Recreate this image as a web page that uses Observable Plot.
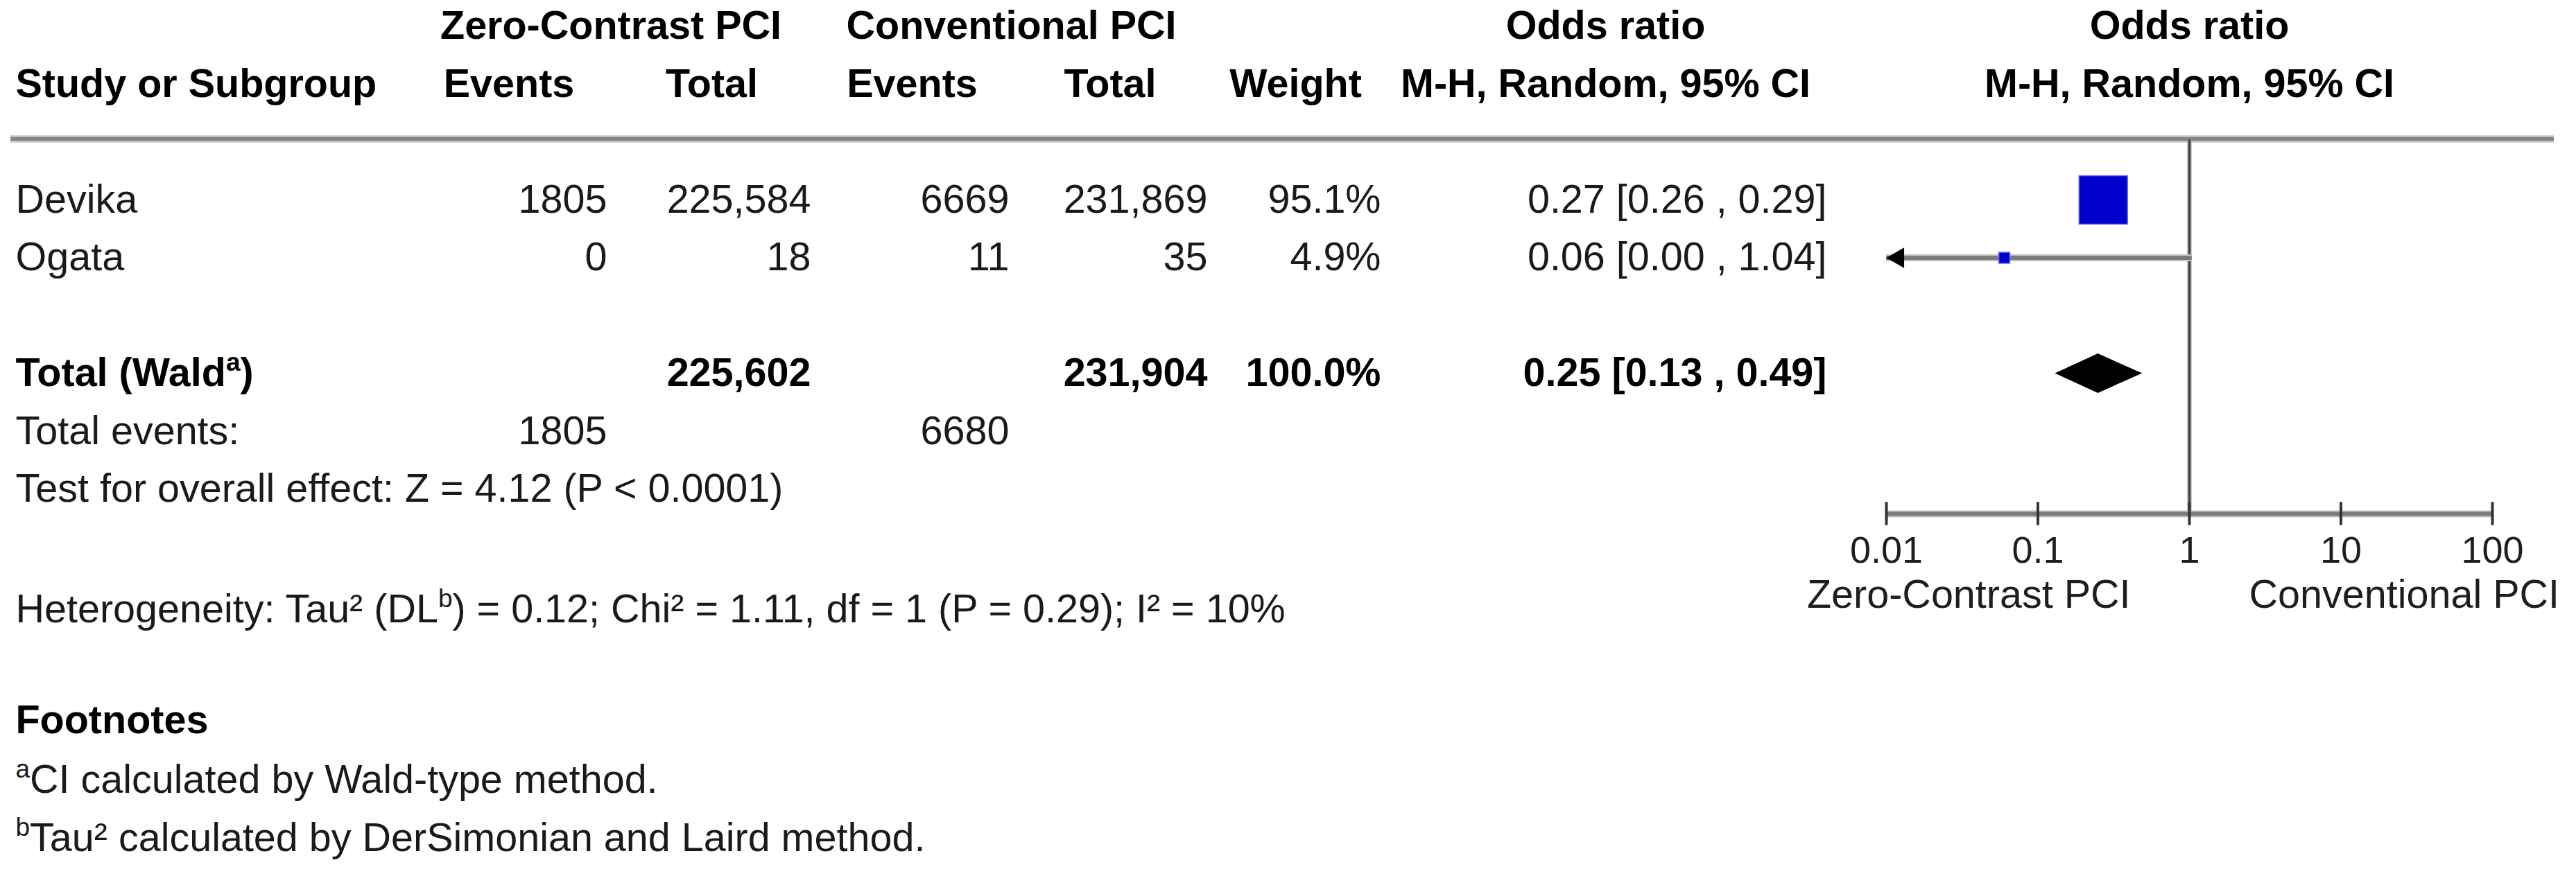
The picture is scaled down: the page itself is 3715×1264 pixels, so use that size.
<!DOCTYPE html>
<html>
<head>
<meta charset="utf-8">
<script src="https://cdn.jsdelivr.net/npm/d3@7"></script>
<script src="https://cdn.jsdelivr.net/npm/@observablehq/plot@0.6"></script>
<style>
  html, body { margin: 0; padding: 0; background: #ffffff; }
  #chart { position: relative; width: 3715px; height: 1264px; overflow: hidden; background: #ffffff; }
  #chart svg { position: absolute; left: 0; top: 0; max-width: none; }
</style>
</head>
<body>
<div id="chart"></div>
<script>
// ---------------- DATA ----------------
const studies      = ["Devika", "Ogata"];
const zcEvents     = [1805, 0];
const zcTotals     = [225584, 18];
const cvEvents     = [6669, 11];
const cvTotals     = [231869, 35];
const weights      = [95.1, 4.9];
const oddsRatios   = [0.27, 0.06];
const ciLower      = [0.26, 0.00];
const ciUpper      = [0.29, 1.04];

const pooledEstimate = 0.25;
const pooledLower    = 0.13;
const pooledUpper    = 0.49;
const groupTotals      = [225602, 231904];
const groupEventTotals = [1805, 6680];
const totalWeight      = 100.0;

const overallZ = 4.12;
const overallP = "< 0.0001";
const hetTau2 = 0.12, hetChi2 = 1.11, hetDf = 1, hetP = 0.29, hetI2 = 10;

const groupLabels   = ["Zero-Contrast PCI", "Conventional PCI"];
const columnHeaders = ["Events", "Total", "Events", "Total", "Weight", "M-H, Random, 95% CI"];
const effectHeader  = ["Odds ratio", "M-H, Random, 95% CI"];
const tickValues    = [0.01, 0.1, 1, 10, 100];
const tickLabels    = ["0.01", "0.1", "1", "10", "100"];
const footnotes     = ["^aCI calculated by Wald-type method.", "^bTau² calculated by DerSimonian and Laird method."];

// ---------------- LAYOUT ----------------
const W = 3715, H = 1264;
const FONT = "'Liberation Sans', Arial, Helvetica, sans-serif";
const FS = 57.5;
const ROW = {header1: 0, header2: 1, firstStudy: 3, total: 6, totalEvents: 7, test: 8, het: 10.08, fnTitle: 12, firstFn: 13.03};
const LINE_ROW = 1.946, AXIS_ROW = 8.425, TICK_ROW = 9.06, AXIS_TITLE_ROW = 9.83;
const DIAMOND_HALF = 0.34, TICK_HALF = 0.2;
const yScale = {type: "linear", domain: [0, 14], range: [37.5, 1206.5], axis: null};
const TEXT_LEFT = 22;
const cols = {zcEvents: [592, 875], zcTotal: [883, 1169], cvEvents: [1175, 1455], cvTotal: [1460, 1741], weight: [1745, 1991], or: [1996, 2634]};
const colKeys = ["zcEvents", "zcTotal", "cvEvents", "cvTotal", "weight", "or"];
const mid = (a, b) => (cols[a][0] + cols[b][1]) / 2;
const right = k => cols[k][1];

// ---------------- FORMATTERS ----------------
const fmtTotal = d3.format(",");
const f2 = v => v.toFixed(2);
const orText = (e, l, u) => `${f2(e)} [${f2(l)} , ${f2(u)}]`;

// ---------------- TABLE CELLS ----------------
const midBold = [
  {x: mid("zcEvents", "zcTotal"), row: ROW.header1, text: groupLabels[0]},
  {x: mid("cvEvents", "cvTotal"), row: ROW.header1, text: groupLabels[1]},
  {x: mid("or", "or"), row: ROW.header1, text: effectHeader[0]},
  ...colKeys.map((k, i) => ({x: mid(k, k), row: ROW.header2, text: columnHeaders[i]}))
];
const startBold = [
  {x: TEXT_LEFT, row: ROW.header2, text: "Study or Subgroup"},
  {x: TEXT_LEFT, row: ROW.total, text: "Total (Wald^a)"},
  {x: TEXT_LEFT, row: ROW.fnTitle, text: "Footnotes"}
];
const startNormal = [
  ...studies.map((s, i) => ({x: TEXT_LEFT, row: ROW.firstStudy + i, text: s})),
  {x: TEXT_LEFT, row: ROW.totalEvents, text: "Total events:"},
  {x: TEXT_LEFT, row: ROW.test, text: `Test for overall effect: Z = ${f2(overallZ)} (P ${overallP})`},
  {x: TEXT_LEFT, row: ROW.het, text: `Heterogeneity: Tau² (DL^b) = ${f2(hetTau2)}; Chi² = ${f2(hetChi2)}, df = ${hetDf} (P = ${f2(hetP)}); I² = ${hetI2}%`},
  ...footnotes.map((t, i) => ({x: TEXT_LEFT, row: ROW.firstFn + i, text: t}))
];
const endNormal = [];
studies.forEach((s, i) => {
  const r = ROW.firstStudy + i;
  endNormal.push({x: right("zcEvents"), row: r, text: String(zcEvents[i])});
  endNormal.push({x: right("zcTotal"), row: r, text: fmtTotal(zcTotals[i])});
  endNormal.push({x: right("cvEvents"), row: r, text: String(cvEvents[i])});
  endNormal.push({x: right("cvTotal"), row: r, text: fmtTotal(cvTotals[i])});
  endNormal.push({x: right("weight"), row: r, text: weights[i].toFixed(1) + "%"});
  endNormal.push({x: right("or"), row: r, text: orText(oddsRatios[i], ciLower[i], ciUpper[i])});
});
endNormal.push({x: right("zcEvents"), row: ROW.totalEvents, text: String(groupEventTotals[0])});
endNormal.push({x: right("cvEvents"), row: ROW.totalEvents, text: String(groupEventTotals[1])});
const endBold = [
  {x: right("zcTotal"), row: ROW.total, text: fmtTotal(groupTotals[0])},
  {x: right("cvTotal"), row: ROW.total, text: fmtTotal(groupTotals[1])},
  {x: right("weight"), row: ROW.total, text: totalWeight.toFixed(1) + "%"},
  {x: right("or"), row: ROW.total, text: orText(pooledEstimate, pooledLower, pooledUpper)}
];

const textOpts = (anchor, bold) => ({x: "x", y: "row", text: "text", textAnchor: anchor,
  fontSize: FS, fontWeight: bold ? "bold" : "normal", fill: bold ? "#000" : "#1a1a1a"});

const table = Plot.plot({
  width: W, height: H, margin: 0,
  x: {type: "linear", domain: [0, W], range: [0, W], axis: null},
  y: yScale,
  style: {background: "transparent", fontFamily: FONT, overflow: "visible"},
  marks: [
    Plot.ruleY([LINE_ROW], {x1: 15, x2: 3683, stroke: "#d4d4d4", strokeWidth: 11}),
    Plot.ruleY([LINE_ROW], {x1: 15, x2: 3683, stroke: "#858585", strokeWidth: 6}),
    Plot.text(midBold, textOpts("middle", true)),
    Plot.text(startBold, textOpts("start", true)),
    Plot.text(startNormal, textOpts("start", false)),
    Plot.text(endNormal, textOpts("end", false)),
    Plot.text(endBold, textOpts("end", true))
  ]
});

// ---------------- FOREST PLOT ----------------
const xMin = tickValues[0], xMax = tickValues[tickValues.length - 1];
const forestRows = studies.map((s, i) => ({
  row: ROW.firstStudy + i, or: oddsRatios[i], lo: ciLower[i], hi: ciUpper[i], weight: weights[i]
}));
const diamond = [
  {x: pooledLower,    y1: ROW.total, y2: ROW.total},
  {x: pooledEstimate, y1: ROW.total - DIAMOND_HALF, y2: ROW.total + DIAMOND_HALF},
  {x: pooledUpper,    y1: ROW.total, y2: ROW.total}
];

const forest = Plot.plot({
  width: W, height: H, margin: 0,
  x: {type: "log", domain: [xMin, xMax], range: [2720, 3594], axis: null},
  y: yScale,
  r: {type: "sqrt", domain: [0, 100], range: [0, 40.5]},
  style: {background: "transparent", fontFamily: FONT, overflow: "visible"},
  marks: [
    Plot.ruleX([1], {y1: LINE_ROW, y2: AXIS_ROW, stroke: "#9a9a9a", strokeWidth: 6}),
    Plot.ruleX([1], {y1: LINE_ROW, y2: AXIS_ROW, stroke: "#3a3a3a", strokeWidth: 2.5}),
    Plot.ruleY(forestRows, {y: "row", x1: d => Math.max(d.lo, xMin), x2: d => Math.min(d.hi, xMax), stroke: "#c4c4c4", strokeWidth: 10}),
    Plot.ruleY(forestRows, {y: "row", x1: d => Math.max(d.lo, xMin), x2: d => Math.min(d.hi, xMax), stroke: "#7c7c7c", strokeWidth: 6}),
    Plot.dot(forestRows.filter(d => d.lo < xMin), {x: xMin, y: "row", symbol: "triangle", r: 11, rotate: -90, dx: 17, fill: "#000", stroke: "none"}),
    Plot.dot(forestRows, {x: "or", y: "row", r: "weight", symbol: "square", fill: "#0000cc", stroke: "#7070ee", strokeWidth: 1.5}),
    Plot.areaY(diamond, {x: "x", y1: "y1", y2: "y2", fill: "#000"}),
    Plot.ruleY([AXIS_ROW], {x1: xMin, x2: xMax, stroke: "#c4c4c4", strokeWidth: 10}),
    Plot.ruleY([AXIS_ROW], {x1: xMin, x2: xMax, stroke: "#7c7c7c", strokeWidth: 6}),
    Plot.ruleX(tickValues, {x: d => d, y1: AXIS_ROW - TICK_HALF, y2: AXIS_ROW + TICK_HALF, stroke: "#333", strokeWidth: 4}),
    Plot.text(tickValues, {x: d => d, y: TICK_ROW, text: (d, i) => tickLabels[i], fontSize: 54, fill: "#1e1e1e"}),
    Plot.text([groupLabels[0]], {x: 1, y: AXIS_TITLE_ROW, text: d => d, textAnchor: "end", dx: -85, fontSize: FS, fill: "#1e1e1e"}),
    Plot.text([groupLabels[1]], {x: 1, y: AXIS_TITLE_ROW, text: d => d, textAnchor: "start", dx: 86, fontSize: FS, fill: "#1e1e1e"}),
    Plot.text(effectHeader, {x: 1, y: (d, i) => ROW.header1 + i, text: d => d, fontSize: FS, fontWeight: "bold", fill: "#000"})
  ]
});

// ---------------- SUPERSCRIPTS ----------------
function applySuperscripts(svg) {
  const NS = "http://www.w3.org/2000/svg";
  const supSize = 37, rise = 22;
  svg.querySelectorAll("text").forEach(t => {
    const s = t.textContent;
    if (!s.includes("^")) return;
    const parts = s.split(/(\^[a-z])/);
    t.textContent = "";
    let raised = false;
    parts.forEach(p => {
      if (!p) return;
      const ts = document.createElementNS(NS, "tspan");
      if (p.startsWith("^")) {
        ts.textContent = p.slice(1);
        ts.setAttribute("font-size", supSize);
        ts.setAttribute("dy", -rise);
        raised = true;
      } else {
        ts.textContent = p;
        if (raised) { ts.setAttribute("dy", rise); raised = false; }
      }
      t.appendChild(ts);
    });
  });
}
applySuperscripts(table);

const chart = document.getElementById("chart");
chart.appendChild(table);
chart.appendChild(forest);
</script>
</body>
</html>
